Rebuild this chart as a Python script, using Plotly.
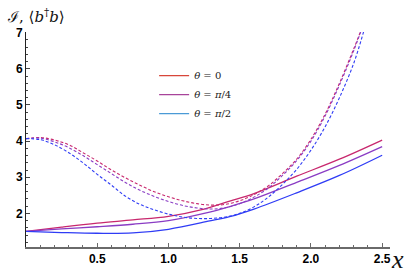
import plotly.graph_objects as go

# ---- data ----
x_solid = [0.0, 0.25, 0.5, 0.75, 1.0, 1.25, 1.43, 1.6, 1.9, 2.2, 2.5]
solid_t0 = [1.5, 1.62, 1.73, 1.82, 1.92, 2.12, 2.34, 2.55, 3.03, 3.5, 4.03]
solid_t4 = [1.5, 1.57, 1.63, 1.70, 1.80, 2.00, 2.19, 2.40, 2.86, 3.33, 3.85]
x_solid_b = [0.0, 0.25, 0.5, 0.75, 1.0, 1.29, 1.43, 1.6, 1.9, 2.2, 2.5]
solid_t2 = [1.5, 1.47, 1.45, 1.46, 1.56, 1.79, 1.91, 2.12, 2.57, 3.05, 3.61]

x_dash = [0.0, 0.1, 0.2, 0.3, 0.4, 0.5, 0.6, 0.7, 0.8, 0.9, 1.0, 1.1, 1.2,
          1.3, 1.4, 1.5, 1.6, 1.7, 1.8, 1.9, 2.0, 2.1, 2.2, 2.3, 2.35]
dash_t0 = [4.07, 4.10, 4.03, 3.90, 3.68, 3.45, 3.20, 2.98, 2.78, 2.60, 2.46, 2.35, 2.27,
           2.23, 2.25, 2.35, 2.52, 2.76, 3.10, 3.50, 4.05, 4.75, 5.60, 6.55, 7.05]
dash_t4 = [4.07, 4.08, 3.98, 3.82, 3.60, 3.35, 3.10, 2.85, 2.64, 2.47, 2.33, 2.22, 2.15,
           2.12, 2.16, 2.27, 2.45, 2.70, 3.05, 3.46, 4.00, 4.70, 5.55, 6.50, 7.03]
x_dash_b = [0.0, 0.1, 0.2, 0.3, 0.4, 0.5, 0.6, 0.7, 0.8, 0.9, 1.0, 1.1, 1.2,
            1.3, 1.4, 1.5, 1.6, 1.7, 1.8, 1.9, 2.0, 2.1, 2.2, 2.3, 2.37]
dash_t2 = [4.07, 4.04, 3.90, 3.68, 3.40, 3.08, 2.78, 2.47, 2.25, 2.10, 1.98, 1.90, 1.86,
           1.86, 1.90, 2.00, 2.18, 2.45, 2.80, 3.22, 3.75, 4.40, 5.20, 6.15, 7.03]

legend_labels = ["<i>θ</i> = 0", "<i>θ</i> = <i>π</i>/4", "<i>θ</i> = <i>π</i>/2"]
x_ticks = [0.5, 1.0, 1.5, 2.0, 2.5]
y_ticks = [2, 3, 4, 5, 6, 7]

curve_colors = ["#c8286e", "#8a3cc4", "#2f3cf5"]
legend_colors = ["#d8463a", "#a8449a", "#4a9ad6"]

fig = go.Figure()
solids = [(x_solid, solid_t0), (x_solid, solid_t4), (x_solid_b, solid_t2)]
dashes = [(x_dash, dash_t0), (x_dash, dash_t4), (x_dash_b, dash_t2)]
for (xs, ys), c in zip(solids, curve_colors):
    fig.add_trace(go.Scatter(x=xs, y=ys, mode="lines", line=dict(color=c, width=1.3, shape="spline"),
                             showlegend=False, hoverinfo="skip"))
for (xs, ys), c in zip(dashes, curve_colors):
    fig.add_trace(go.Scatter(x=xs, y=ys, mode="lines",
                             line=dict(color=c, width=1.1, dash="3px,2px", shape="spline"),
                             showlegend=False, hoverinfo="skip"))
for lab, c in zip(legend_labels, legend_colors):
    fig.add_trace(go.Scatter(x=[None], y=[None], mode="lines", name=lab,
                             line=dict(color=c, width=1.3)))

tickfont = dict(family="Liberation Sans", size=12, color="#000", weight=700)
fig.update_layout(
    width=415, height=278,
    margin=dict(l=26, r=25, t=32, b=15),
    plot_bgcolor="white", paper_bgcolor="white",
    showlegend=True,
    legend=dict(x=0.352, y=0.865, xanchor="left", yanchor="top",
                font=dict(family="DejaVu Serif, Liberation Serif", size=10, color="#222"),
                bgcolor="rgba(0,0,0,0)", tracegroupgap=0, itemwidth=30),
    xaxis=dict(range=[0, 2.555], showgrid=False, zeroline=False,
               showline=True, linecolor="#6a6a6a", linewidth=2,
               tickvals=x_ticks, ticktext=[f"{v:.1f}" for v in x_ticks],
               ticks="inside", ticklen=4, tickcolor="#6a6a6a", tickwidth=1,
               minor=dict(dtick=0.1, ticks="inside", ticklen=2, tickcolor="#6a6a6a"),
               tickfont=tickfont),
    yaxis=dict(range=[1.07, 7.02], showgrid=False, zeroline=False,
               showline=True, linecolor="#222", linewidth=1,
               tickvals=y_ticks, ticks="inside", ticklen=4, tickcolor="#444", tickwidth=1,
               minor=dict(dtick=0.2, ticks="inside", ticklen=2, tickcolor="#444"),
               tickfont=tickfont),
    annotations=[
        dict(text="ℐ, ⟨<i>b</i><sup>†</sup><i>b</i>⟩", xref="paper", yref="paper",
             x=-0.057, y=1.0, xanchor="left", yanchor="bottom", showarrow=False,
             yshift=4, font=dict(family="DejaVu Serif, Liberation Serif", size=15, color="#111")),
        dict(text="x", xref="paper", yref="paper", x=1.0, y=0.0,
             xanchor="left", yanchor="middle", showarrow=False, xshift=-1, yshift=-12,
             font=dict(family="Liberation Serif", size=26, color="#111", style="italic")),
    ],
)
fig.write_html("out.html", config={"displayModeBar": False},
               post_script="document.body.style.margin='0';document.body.style.overflow='hidden';")
